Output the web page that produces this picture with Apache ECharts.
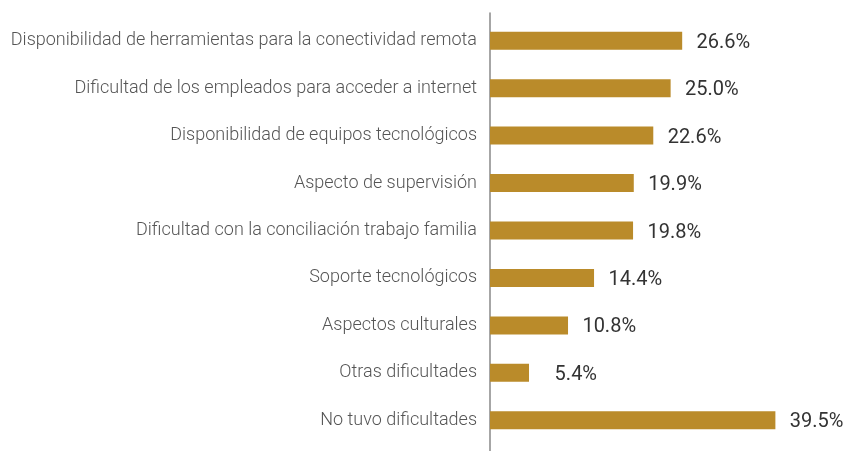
<!DOCTYPE html>
<html>
<head>
<meta charset="utf-8">
<script src="https://cdn.jsdelivr.net/npm/echarts@6/dist/echarts.min.js"></script>
<style>
  html, body { margin: 0; padding: 0; background: #fff; }
  #main { width: 844px; height: 451px; }
</style>
</head>
<body>
<div id="main"></div>
<script>
// categorías de arriba hacia abajo
const categories = [
  'Disponibilidad de herramientas para la conectividad remota',
  'Dificultad de los empleados para acceder a internet',
  'Disponibilidad de equipos tecnológicos',
  'Aspecto de supervisión',
  'Dificultad con la conciliación trabajo familia',
  'Soporte tecnológicos',
  'Aspectos culturales',
  'Otras dificultades',
  'No tuvo dificultades'
];
const values = [26.6, 25.0, 22.6, 19.9, 19.8, 14.4, 10.8, 5.4, 39.5];

const chart = echarts.init(document.getElementById('main'));

chart.setOption({
  backgroundColor: '#fff',
  animation: false,
  grid: [
    { left: 490, top: 17, width: 289, height: 427 },
    // solo para la línea del eje, un poco más larga
    { left: 490, top: 13, width: 289, bottom: 0 }
  ],
  xAxis: [
    { type: 'value', min: 0, max: 40, show: false },
    { type: 'value', gridIndex: 1, min: 0, max: 40, show: false }
  ],
  yAxis: [
    {
      type: 'category',
      data: categories,
      inverse: true,
      axisLine: { show: false },
      axisTick: { show: false },
      axisLabel: {
        margin: 13,
        color: '#555',
        fontFamily: 'Roboto',
        fontWeight: 300,
        fontSize: 18
      }
    },
    {
      type: 'category',
      gridIndex: 1,
      data: [''],
      axisLine: { show: true, lineStyle: { color: '#888', width: 1.5 } },
      axisTick: { show: false },
      axisLabel: { show: false }
    }
  ],
  series: [{
    type: 'bar',
    data: values,
    barWidth: 18,
    itemStyle: { color: '#BA8B2A' },
    label: {
      show: true,
      position: 'right',
      distance: 68,
      align: 'right',
      offset: [0, 2],
      formatter: p => p.value.toFixed(1) + '%',
      color: '#333',
      fontFamily: 'Roboto',
      fontSize: 20
    }
  }]
});
</script>
</body>
</html>
